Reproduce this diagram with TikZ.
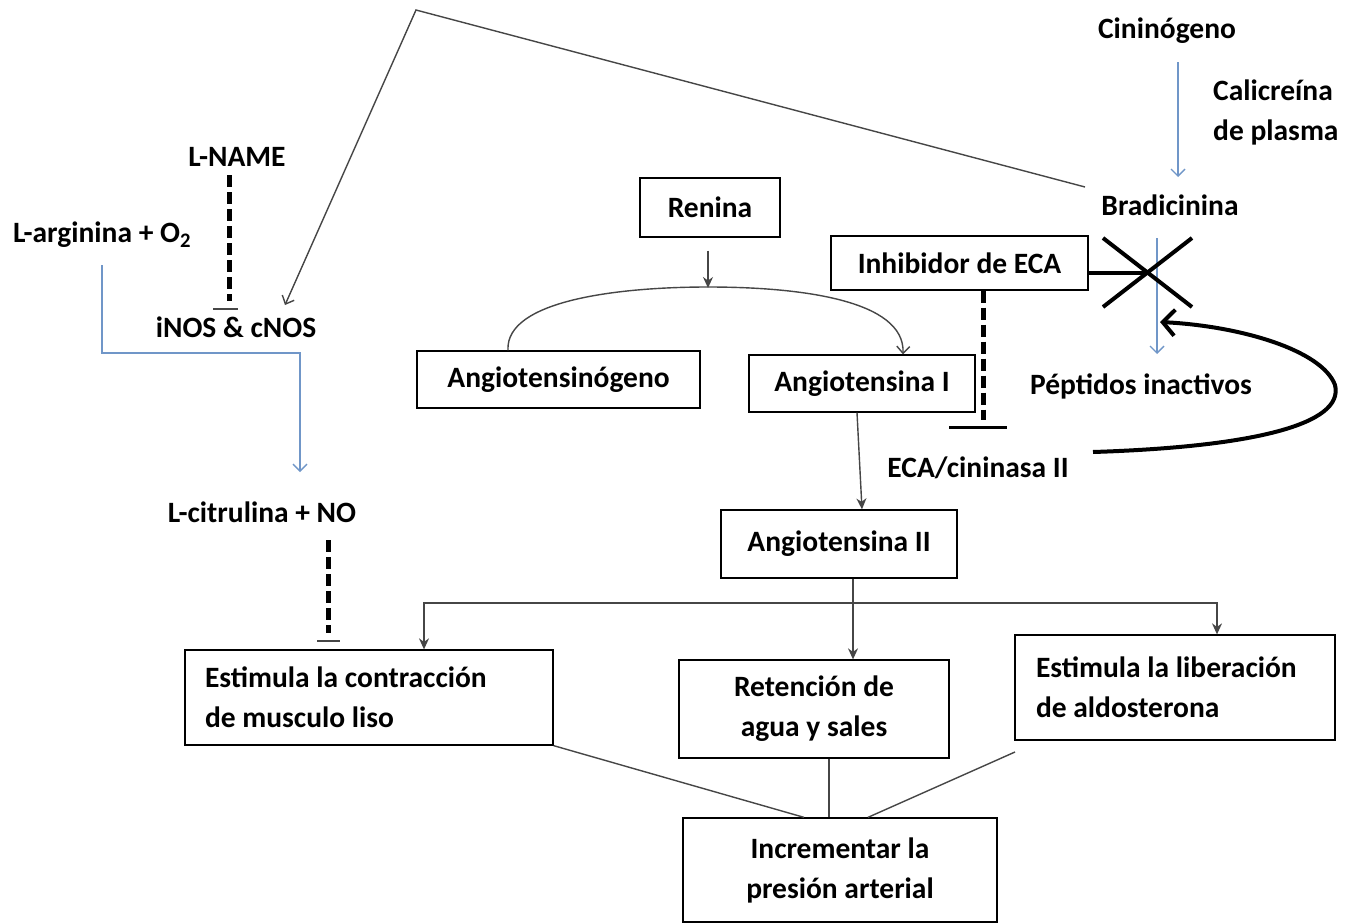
\documentclass[tikz,border=0pt]{standalone}
\usepackage{fontspec}
\setmainfont{Carlito}
\usetikzlibrary{arrows.meta}
\definecolor{flowblue}{RGB}{112,150,200}
\definecolor{linegray}{RGB}{70,70,70}
\tikzset{
  lbl/.style={font=\fontsize{29.5}{40}\selectfont\bfseries, inner sep=0pt, align=center},
  box/.style={lbl, draw=black, line width=1.3pt, inner sep=0pt},
  bluearrow/.style={draw=flowblue, line width=1.4pt, -{Straight Barb[length=7pt,width=14pt]}},
  grayarrow/.style={draw=linegray, line width=1.4pt, -{Stealth[length=11pt,width=10pt]}},
  thinarrow/.style={draw=linegray, line width=1.4pt, -{Straight Barb[length=7pt,width=13pt]}},
  grayline/.style={draw=linegray, line width=1.4pt},
  blocker/.style={draw=black, line width=5pt, dash pattern=on 12pt off 5pt},
  tbar/.style={draw=linegray, line width=2pt},
  heavy/.style={draw=black, line width=4pt}
}
\begin{document}
\begin{tikzpicture}[x=1pt, y=-1pt]
\useasboundingbox[fill=white] (0,0) rectangle (1358,924);

% ---- kinin branch ----
\node[lbl] (cinin) at (1167,31) {Cininógeno};
\node[lbl, align=flush left, anchor=west] (calic) at (1213,112) {Calicreína\\de plasma};
\node[lbl] (brad) at (1170,205) {Bradicinina};
\node[lbl] (pept) at (1141,386) {Péptidos inactivos};
\coordinate (cinTop) at (1178,62);
\coordinate (cinEnd) at (1178,177);
\draw[bluearrow] (cinTop) -- (cinEnd);
\coordinate (bradTop) at (1157,238);
\coordinate (bradEnd) at (1157,354);
\draw[bluearrow] (bradTop) -- (bradEnd);

% ---- NO branch ----
\node[lbl] (lname) at (237,157) {L-NAME};
\node[lbl] (larg) at (102,235) {L-arginina + O\textsubscript{2}};
\node[lbl] (inos) at (236,327) {iNOS \& cNOS};
\node[lbl] (lcit) at (262,512) {L-citrulina + NO};

\coordinate (apex) at (416,10);
\coordinate (bradLink) at (1085,187);
\coordinate (inosTip) at (285,305);
\draw[thinarrow] (bradLink) -- (apex) -- (inosTip);

\coordinate (lnameBar) at (229,309);
\draw[blocker] (229,175) -- (229,301);
\draw[tbar] ([xshift=-16pt]lnameBar) -- ([xshift=9pt]lnameBar);

\coordinate (argTop) at (102,265);
\coordinate (argTurn) at (102,353);
\coordinate (citTip) at (300,472);
\draw[bluearrow] (argTop) -- (argTurn) -| (citTip);

% ---- renin-angiotensin ----
\node[box, minimum width=140pt, minimum height=59pt] (renina) at (710,207.5) {Renina};
\node[box, minimum width=283pt, minimum height=57pt] (angogen) at (558.5,379.5) {Angiotensinógeno};
\node[box, minimum width=226pt, minimum height=57pt] (ang1) at (862,383.5) {Angiotensina I};
\node[box, minimum width=236pt, minimum height=68pt] (ang2) at (839,544) {Angiotensina II};
\node[box, minimum width=257pt, minimum height=54pt] (inhib) at (959.5,263) {Inhibidor de ECA};
\node[lbl] (eca) at (978,468) {ECA/cininasa II};

\draw[grayarrow] ([yshift=-13pt]renina.south -| 708,0) -- (708,288);
\draw[thinarrow] (angogen.north -| 508,0) .. controls (505,300) and (620,287) .. (708,287)
  .. controls (800,287) and (905,300) .. (ang1.north -| 903,0);
\draw[grayarrow] (ang1.south -| 857,0) -- (ang2.north -| 862,0);

% inhibitor blocks the kininase and the degradation of bradykinin
\coordinate (xc) at (1147,273);
\draw[heavy, line width=3.5pt] (inhib.east |- xc) -- (xc);
\draw[heavy] (1103,238) -- (1192,307);
\draw[heavy] (1192,238) -- (1103,307);
\draw[blocker] (inhib.south -| 983,0) -- (983,420);
\draw[draw=black, line width=3pt] (949,427) -- (1007,427);

\coordinate (loopStart) at (1093,452);
\coordinate (loopTip) at (1160,322);
\draw[heavy, -{Straight Barb[length=12pt,width=26pt]}] (loopStart)
  .. controls (1250,447) and (1345,425) .. (1335,385)
  .. controls (1322,350) and (1240,326) .. (loopTip);

% ---- effects ----
\node[box, align=flush left, text width=328pt, inner xsep=20pt, minimum height=95pt] (contr) at (369,697.5)
  {Estimula la contracción\\de musculo liso};
\node[box, minimum width=270pt, minimum height=98pt] (reten) at (814,709) {Retención de\\agua y sales};
\node[box, align=flush left, text width=278pt, inner xsep=21pt, minimum height=105pt] (aldo) at (1175,687.5)
  {Estimula la liberación\\de aldosterona};
\node[box, minimum width=314pt, minimum height=104pt] (incr) at (840,870) {Incrementar la\\presión arterial};

\coordinate (split) at (853,603);
\draw[grayline] (ang2.south -| split) -- (split);
\draw[grayarrow] (split) -- (reten.north -| split);
\draw[grayarrow] (split) -- (424,603) -- (contr.north -| 424,0);
\draw[grayarrow] (split) -- (1217,603) -- (aldo.north -| 1217,0);

\draw[blocker] (328,540) -- (328,633);
\draw[tbar] (317,641) -- (340,641);

\draw[grayline] (contr.south east) -- (incr.north -| 804,0);
\draw[grayline] (reten.south -| 829,0) -- (incr.north -| 829,0);
\draw[grayline] (1015,752) -- (incr.north -| 868,0);
\end{tikzpicture}
\end{document}
